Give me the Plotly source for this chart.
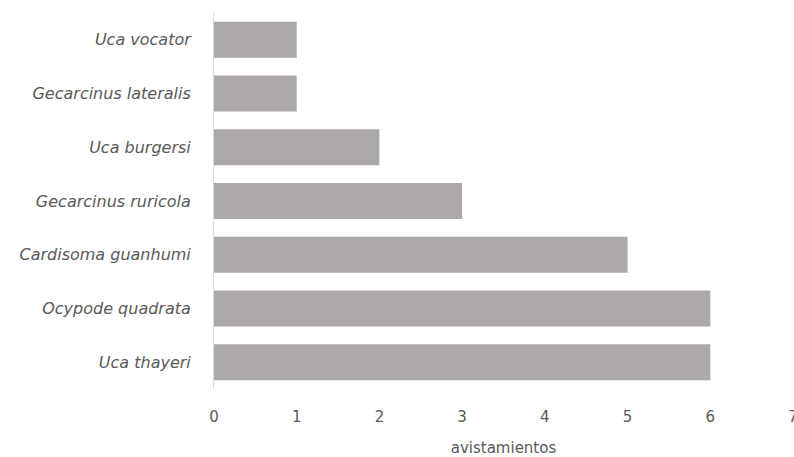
import plotly.graph_objects as go

species = ["Uca thayeri", "Ocypode quadrata", "Cardisoma guanhumi", "Gecarcinus ruricola",
           "Uca burgersi", "Gecarcinus lateralis", "Uca vocator"]
sightings = [6, 6, 5, 3, 2, 1, 1]
x_ticks = [0, 1, 2, 3, 4, 5, 6, 7]

FONT = "DejaVu Sans"
fig = go.Figure(go.Bar(
    y=species, x=sightings, orientation="h",
    marker=dict(color="#ADA9A8", line=dict(width=0)),
))

fig.update_layout(
    width=794, height=457,
    margin=dict(l=214, r=1, t=13, b=68),
    paper_bgcolor="white", plot_bgcolor="white",
    bargap=0.33,
    showlegend=False,
    font=dict(family=FONT, color="#595959", size=14),
    xaxis=dict(range=[0, 7], tickvals=x_ticks, showgrid=False, zeroline=False,
               showline=False, ticks="", ticklabeloverflow="allow", ticklabelstandoff=17,
               automargin=False,
               tickfont=dict(family=FONT, size=15, color="#595959"),
               title=dict(text="avistamientos", font=dict(family=FONT, size=15, color="#595959"), standoff=20)),
    yaxis=dict(showgrid=False, zeroline=False, showline=True, linecolor="#D9D9D9", linewidth=1,
               ticks="", ticklabelstandoff=19, automargin=False,
               tickfont=dict(family=FONT, size=16, color="#595959", style="italic")),
)

fig.write_html("out.html")
